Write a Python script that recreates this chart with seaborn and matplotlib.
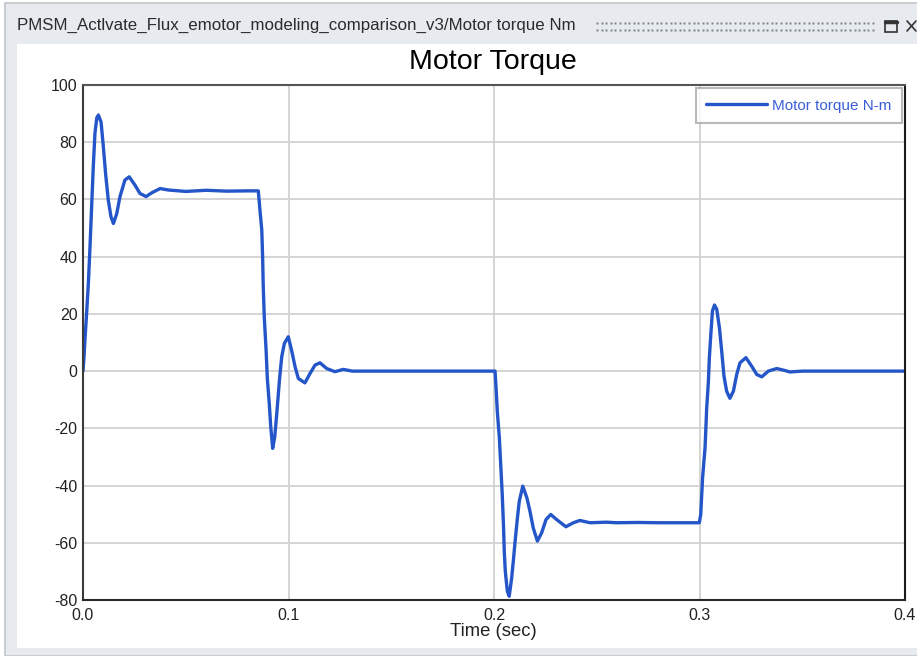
import matplotlib
matplotlib.use('Agg')
import matplotlib.pyplot as plt
import seaborn as sns
import pandas as pd
import numpy as np
from matplotlib.patches import Rectangle
from matplotlib.lines import Line2D

# ---------------- data ----------------
time_s = [
    0.0, 0.0005, 0.0010, 0.0018, 0.0026, 0.0034, 0.0042, 0.0050, 0.0058, 0.0067,
    0.0075, 0.0088, 0.0099, 0.0110, 0.0123, 0.0136, 0.0148, 0.0164, 0.0180, 0.0204,
    0.0225, 0.0253, 0.0277, 0.0307, 0.0334, 0.0375, 0.0415, 0.0500, 0.0600, 0.0700,
    0.0800, 0.0853,
    0.0861, 0.0870, 0.0874, 0.0877, 0.0882, 0.0891, 0.0897, 0.0907, 0.0913, 0.0923,
    0.0933, 0.0943, 0.0956, 0.0967, 0.0980, 0.0999, 0.1015, 0.1032, 0.1048, 0.1080,
    0.1105, 0.1129, 0.1153, 0.1186, 0.1226, 0.1267, 0.1310, 0.1500, 0.2005,
    0.2010, 0.2016, 0.2026, 0.2033, 0.2040, 0.2046, 0.2050, 0.2055, 0.2065, 0.2074,
    0.2086, 0.2094, 0.2102, 0.2114, 0.2123, 0.2140, 0.2160, 0.2175, 0.2191, 0.2211,
    0.2232, 0.2253, 0.2276, 0.2305, 0.2350, 0.2386, 0.2418, 0.2467, 0.2548, 0.2597,
    0.2700, 0.2800, 0.2999,
    0.3006, 0.3015, 0.3027, 0.3035, 0.3043, 0.3048, 0.3055, 0.3063, 0.3073, 0.3084,
    0.3097, 0.3108, 0.3119, 0.3132, 0.3148, 0.3165, 0.3181, 0.3197, 0.3226, 0.3254,
    0.3279, 0.3303, 0.3335, 0.3376, 0.3416, 0.3440, 0.3500, 0.3800, 0.4000,
]
torque_nm = [
    0, 5, 11.5, 20.7, 30.6, 43.4, 57.4, 71.4, 83, 88.5,
    89.5, 87, 78.4, 69, 59.8, 54, 51.6, 55, 61, 66.8,
    67.9, 65, 62.1, 61, 62.3, 63.8, 63.3, 62.8, 63.2, 62.9,
    63, 63,
    56.3, 49.3, 40, 30, 19, 7.3, -2.6, -11.9, -18.9, -27,
    -23, -14.8, -3.1, 5, 9.7, 12, 7.3, 1.5, -2.6, -4.1,
    -0.8, 2.1, 2.9, 0.9, -0.2, 0.6, 0, 0, 0,
    -5.8, -14, -23.3, -33.2, -43, -53.6, -63, -70, -77, -78.7,
    -72.3, -66.4, -60, -51.3, -45.5, -40.2, -44.3, -49, -54.8, -59.4,
    -56.5, -51.9, -50.1, -51.9, -54.4, -53, -52.2, -53, -52.8, -53,
    -52.9, -53, -53,
    -50.1, -37.3, -26.8, -13, -4, 4.7, 12.8, 21, 23.1, 21.6,
    15.1, 7, -1.7, -7, -9.5, -7, -1.2, 2.9, 4.7, 1.7,
    -1.2, -2, 0, 0.9, 0.2, -0.3, 0, 0, 0,
]
x_ticks = [0.0, 0.1, 0.2, 0.3, 0.4]
x_tick_labels = ['0.0', '0.1', '0.2', '0.3', '0.4']
y_ticks = [-80, -60, -40, -20, 0, 20, 40, 60, 80, 100]
series_label = 'Motor torque N-m'
chart_title = 'Motor Torque'
window_title = 'PMSM_Actlvate_Flux_emotor_modeling_comparison_v3/Motor torque Nm'
x_label = 'Time (sec)'

df = pd.DataFrame({'t': time_s, 'v': torque_nm})

# ---------------- style ----------------
sns.set_style('white')
plt.rcParams['font.family'] = ['Liberation Sans', 'DejaVu Sans']
plt.rcParams['axes.unicode_minus'] = False

W, H = 917, 656
fig = plt.figure(figsize=(W / 100, H / 100), dpi=100)
fig.patch.set_facecolor('white')


def fx(px):
    return px / W


def fy(py):
    return 1 - py / H


# window chrome
fig.add_artist(Rectangle((fx(5), 0), 1 - fx(5) + 0.01, fy(3), transform=fig.transFigure,
                         facecolor='#e7ebef', edgecolor='#c2c6ca', lw=1.2, zorder=-2))
fig.add_artist(Rectangle((fx(17), fy(648)), 1 - fx(17) + 0.01, fy(44) - fy(648),
                         transform=fig.transFigure, facecolor='white', edgecolor='none',
                         zorder=-1))
fig.text(fx(17), fy(25), window_title, ha='left', va='center', fontsize=12.2,
         color='#2b2b2b')
# grip dots
dots_x = np.arange(597, 873, 4.6)
for yy in (22.5, 29.5):
    fig.add_artist(Line2D([fx(d) for d in dots_x], [fy(yy)] * len(dots_x),
                          transform=fig.transFigure, ls='none', marker='s', ms=1.6,
                          mfc='#7d848b', mec='none'))
# maximize icon
fig.add_artist(Rectangle((fx(885), fy(32)), fx(12), fy(21) - fy(32), transform=fig.transFigure,
                         facecolor='none', edgecolor='#333333', lw=1.2))
fig.add_artist(Line2D([fx(885), fx(897)], [fy(22), fy(22)], transform=fig.transFigure,
                      color='#333333', lw=2.5))
# close X
fig.add_artist(Line2D([fx(907), fx(916)], [fy(21), fy(31)], transform=fig.transFigure,
                      color='#333333', lw=1.2))
fig.add_artist(Line2D([fx(907), fx(916)], [fy(31), fy(21)], transform=fig.transFigure,
                      color='#333333', lw=1.2))

# ---------------- axes ----------------
ax = fig.add_axes([fx(83), fy(600), fx(905) - fx(83), fy(85) - fy(600)])
ax.set_facecolor('white')
sns.lineplot(data=df, x='t', y='v', ax=ax, color='#2456c9', lw=2.4, label=series_label,
             estimator=None, sort=False)

ax.set_xlim(0, 0.4)
ax.set_ylim(-80, 100)
ax.set_xticks(x_ticks)
ax.set_xticklabels(x_tick_labels)
ax.set_yticks(y_ticks)
ax.set_xlabel('')
ax.set_ylabel('')
ax.grid(True, color='#d4d4d4', lw=1.4)
ax.set_axisbelow(True)
for side, col in (('left', '#3a3a3a'), ('bottom', '#2a2a2a'), ('top', '#555555'), ('right', '#1a1a1a')):
    ax.spines[side].set_visible(True)
    ax.spines[side].set_color(col)
    ax.spines[side].set_linewidth(1.5)
ax.tick_params(axis='both', which='major', direction='out', length=4, width=1.2,
               color='#333333', labelsize=11.5, labelcolor='#222222')
ax.tick_params(axis='y', pad=0)
ax.tick_params(axis='x', pad=2)

leg = ax.legend(loc='upper right', bbox_to_anchor=(0.9964, 0.9942), borderaxespad=0,
                fancybox=False, frameon=True, fontsize=11, handlelength=4.0,
                handletextpad=0.3, borderpad=0.7)
leg.get_frame().set_edgecolor('#a8a8a8')
leg.get_frame().set_linewidth(1.5)
for txt in leg.get_texts():
    txt.set_color('#3b5ed8')

fig.text(fx(493), fy(62), chart_title, ha='center', va='center', fontsize=20.5, color='black')
fig.text(fx(493), fy(632), x_label, ha='center', va='center', fontsize=13.3, color='#222222')

fig.savefig('out.png', dpi=100, facecolor=fig.get_facecolor())
